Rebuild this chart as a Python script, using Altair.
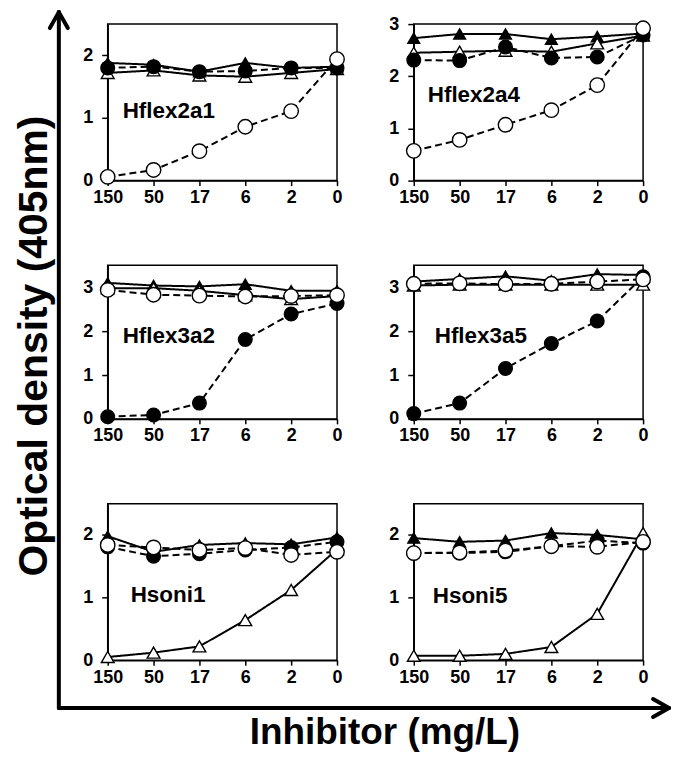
import altair as alt
import pandas as pd

FONT = "Liberation Sans, Arial, sans-serif"

# ---------------- data ----------------
doses = ["150", "50", "17", "6", "2", "0"]
series_keys = ["filled_triangle", "open_triangle", "filled_circle", "open_circle"]
panel_names = ["Hflex2a1", "Hflex2a4", "Hflex3a2", "Hflex3a5", "Hsoni1", "Hsoni5"]

hflex2a1_filled_triangle = [1.88, 1.85, 1.74, 1.88, 1.80, 1.82]
hflex2a1_open_triangle = [1.72, 1.76, 1.68, 1.66, 1.72, 1.78]
hflex2a1_filled_circle = [1.80, 1.82, 1.74, 1.75, 1.80, 1.80]
hflex2a1_open_circle = [0.06, 0.17, 0.47, 0.86, 1.11, 1.94]

hflex2a4_filled_triangle = [2.73, 2.81, 2.81, 2.71, 2.76, 2.82]
hflex2a4_open_triangle = [2.45, 2.47, 2.49, 2.47, 2.63, 2.78]
hflex2a4_filled_circle = [2.31, 2.30, 2.56, 2.35, 2.37, 2.79]
hflex2a4_open_circle = [0.57, 0.78, 1.07, 1.35, 1.83, 2.92]

hflex3a2_filled_triangle = [3.10, 3.04, 3.02, 3.07, 2.92, 2.92]
hflex3a2_open_triangle = [2.98, 2.98, 2.92, 2.82, 2.73, 2.80]
hflex3a2_filled_circle = [0.05, 0.09, 0.36, 1.81, 2.39, 2.63]
hflex3a2_open_circle = [2.94, 2.83, 2.81, 2.79, 2.80, 2.82]

hflex3a5_filled_triangle = [3.13, 3.19, 3.25, 3.15, 3.30, 3.28]
hflex3a5_open_triangle = [3.04, 3.06, 3.06, 3.06, 3.06, 3.06]
hflex3a5_filled_circle = [0.12, 0.36, 1.15, 1.72, 2.23, 3.24]
hflex3a5_open_circle = [3.08, 3.09, 3.07, 3.08, 3.13, 3.18]

hsoni1_filled_triangle = [1.98, 1.73, 1.84, 1.87, 1.85, 1.96]
hsoni1_open_triangle = [0.05, 0.12, 0.22, 0.64, 1.12, 1.77]
hsoni1_filled_circle = [1.81, 1.66, 1.70, 1.76, 1.80, 1.89]
hsoni1_open_circle = [1.84, 1.80, 1.76, 1.79, 1.68, 1.73]

hsoni5_filled_triangle = [1.95, 1.89, 1.91, 2.03, 2.00, 1.93]
hsoni5_open_triangle = [0.07, 0.07, 0.10, 0.21, 0.74, 2.03]
hsoni5_filled_circle = [1.71, 1.71, 1.73, 1.82, 1.91, 1.87]
hsoni5_open_circle = [1.71, 1.72, 1.75, 1.82, 1.81, 1.89]

y_max = [2.5, 3, 3.5, 3.5, 2.5, 2.5]
y_ticks = [[0, 1, 2], [0, 1, 2, 3], [0, 1, 2, 3], [0, 1, 2, 3], [0, 1, 2], [0, 1, 2]]

y_title = "Optical density (405nm)"
x_title = "Inhibitor (mg/L)"

series_by_panel = [
    [hflex2a1_filled_triangle, hflex2a1_open_triangle, hflex2a1_filled_circle, hflex2a1_open_circle],
    [hflex2a4_filled_triangle, hflex2a4_open_triangle, hflex2a4_filled_circle, hflex2a4_open_circle],
    [hflex3a2_filled_triangle, hflex3a2_open_triangle, hflex3a2_filled_circle, hflex3a2_open_circle],
    [hflex3a5_filled_triangle, hflex3a5_open_triangle, hflex3a5_filled_circle, hflex3a5_open_circle],
    [hsoni1_filled_triangle, hsoni1_open_triangle, hsoni1_filled_circle, hsoni1_open_circle],
    [hsoni5_filled_triangle, hsoni5_open_triangle, hsoni5_filled_circle, hsoni5_open_circle],
]

# ---------------- layout (not data) ----------------
PANEL_W = 230
panel_h = [157, 157, 154, 154, 157, 157]
label_pos = [(15, 94), (14, 78), (15, 78), (21, 78), (23, 99), (19, 100)]


def one_row(text):
    return pd.DataFrame({"t": [text]})


def make_panel(i):
    rows = []
    for key, vals in zip(series_keys, series_by_panel[i]):
        for k, (d, v) in enumerate(zip(doses, vals)):
            rows.append({"dose": d, "od": v, "series": key, "idx": k})
    df = pd.DataFrame(rows)

    x = alt.X("dose:O", sort=doses,
              scale=alt.Scale(type="point", padding=0),
              axis=alt.Axis(labelAngle=0, labelPadding=3, tickSize=5, title=None))
    y = alt.Y("od:Q",
              scale=alt.Scale(domain=[0, y_max[i]], nice=False, zero=True),
              axis=alt.Axis(values=y_ticks[i], labelPadding=9, tickSize=6,
                            title=None, format="d"))
    base = alt.Chart(df).encode(x=x, y=y)

    lines = base.mark_line(color="black", strokeWidth=2).encode(
        strokeDash=alt.StrokeDash(
            "series:N",
            scale=alt.Scale(domain=series_keys, range=[[1, 0], [1, 0], [7, 4], [7, 4]]),
            legend=None),
        detail="series:N",
        order=alt.Order("idx:Q"),
    )
    points = base.mark_point(opacity=1, stroke="black", strokeWidth=1.4).encode(
        shape=alt.Shape("series:N",
                        scale=alt.Scale(domain=series_keys,
                                        range=["triangle-up", "triangle-up", "circle", "circle"]),
                        legend=None),
        fill=alt.Fill("series:N",
                      scale=alt.Scale(domain=series_keys,
                                      range=["black", "white", "black", "white"]),
                      legend=None),
        size=alt.Size("series:N",
                      scale=alt.Scale(domain=series_keys, range=[140, 210, 100, 72]),
                      legend=None),
    )
    dx, dy = label_pos[i]
    label = alt.Chart(one_row(panel_names[i])).mark_text(
        align="left", baseline="alphabetic", fontSize=22.5, fontWeight="bold",
        font=FONT, color="black").encode(
        x=alt.value(dx), y=alt.value(dy), text="t:N")

    layers = [lines, points, label]

    if i == 4:
        # overall axis arrows and titles (placed relative to this panel)
        def rule(x1, y1, x2, y2):
            return alt.Chart(one_row("r")).mark_rule(
                color="black", strokeWidth=4, strokeCap="round").encode(
                x=alt.value(x1), y=alt.value(y1), x2=alt.value(x2), y2=alt.value(y2))

        vx, top, hy, right = -49, -493, 205, 563
        layers += [
            rule(vx, top, vx, hy),
            rule(vx, hy, right, hy),
            rule(vx, top, vx - 9, top + 16),
            rule(vx, top, vx + 9, top + 16),
            rule(right, hy, right - 16, hy - 9),
            rule(right, hy, right - 16, hy + 9),
        ]
        ytitle = alt.Chart(one_row(y_title)).mark_text(
            angle=270, align="center", baseline="alphabetic", fontSize=41,
            fontWeight="bold", font=FONT, color="black").encode(
            x=alt.value(-61), y=alt.value(-158), text="t:N")
        xtitle = alt.Chart(one_row(x_title)).mark_text(
            align="center", baseline="alphabetic", fontSize=37,
            fontWeight="bold", font=FONT, color="black").encode(
            x=alt.value(278), y=alt.value(241), text="t:N")
        pin = alt.Chart(one_row("p")).mark_rect(opacity=0).encode(
            x=alt.value(-99), y=alt.value(-495), x2=alt.value(565), y2=alt.value(250))
        layers += [ytitle, xtitle, pin]

    return alt.layer(*layers).properties(width=PANEL_W, height=panel_h[i])


panels = [make_panel(i) for i in range(6)]

chart = alt.concat(
    *panels, columns=2, spacing={"row": 85, "column": 77},
    bounds="flush", align="each",
).properties(
    padding=0, background="white"
).configure(
    font=FONT
).configure_view(
    stroke="black", strokeWidth=1.5
).configure_axis(
    labelFont=FONT, labelFontSize=18, labelFontWeight="bold", labelColor="black",
    tickColor="black", tickWidth=1.5, domainColor="black", domainWidth=1.5,
    grid=False,
)

chart.save("out.html", embed_options={"renderer": "svg", "actions": False})
